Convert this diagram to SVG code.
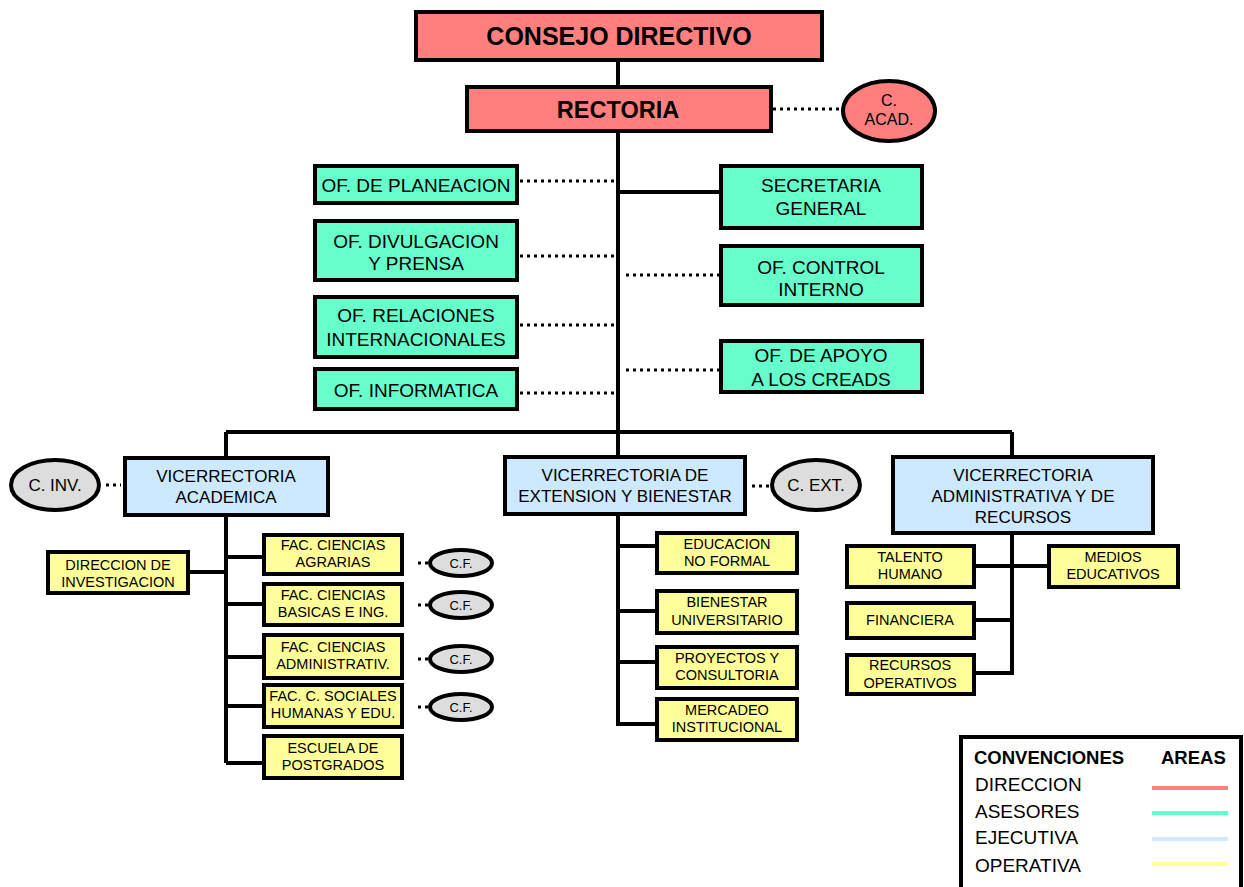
<svg xmlns="http://www.w3.org/2000/svg" width="1244" height="887" viewBox="0 0 1244 887">
<style>
text{font-family:"Liberation Sans",Arial,sans-serif;fill:#000;text-anchor:middle}
.box{stroke:#000;stroke-width:4}
.dir{fill:#FF7F7F}
.ase{fill:#66FFCC}
.eje{fill:#CCE9FF}
.ope{fill:#FFFF99}
.cir{fill:#DDDDDD;stroke:#000;stroke-width:4}
.ln{stroke:#000;stroke-width:4;fill:none}
.dot{stroke:#000;stroke-width:3;stroke-dasharray:3 4;fill:none}
.t1{font-size:19px}
.t2{font-size:17px}
.t3{font-size:14.5px}
.cf{font-size:13px}
.lg{font-size:19px;text-anchor:start}
</style>
<rect width="1244" height="887" fill="#fff"/>
<g id="connectors">
<path class="ln" d="M618 60V88M618 131V432M226 432H1012M226 432V459M618 432V458M1012 432V458M618 192H721"/>
<path class="dot" d="M773 109H843M520 181H615M520 256H615M520 325H615M520 393H615M626 275H720M626 370H720"/>
<path class="ln" d="M226 515V763M188 572H226M226 557H264M226 604H264M226 657H264M226 706H264M226 763H264"/>
<path class="dot" d="M106 485H121M418 563H429M418 605H429M418 659H429M418 707H429M752 486H770"/>
<path class="ln" d="M618 514V724H657M618 546H657M618 611H657M618 662H657"/>
<path class="ln" d="M1012 533V673H974M974 566H1049M974 620H1012"/>
</g>
<g id="consejo"><rect class="box dir" x="416" y="12" width="406" height="48"/><text x="619" y="45" style="font-size:25px;font-weight:bold">CONSEJO DIRECTIVO</text></g>
<g id="rectoria"><rect class="box dir" x="467" y="87" width="304" height="44"/><text x="618" y="118" style="font-size:23.5px;font-weight:bold">RECTORIA</text></g>
<g id="c-acad"><ellipse class="box dir" cx="889" cy="111" rx="46" ry="30"/><text x="889" y="106" style="font-size:16px">C.</text><text x="889" y="125" style="font-size:16px">ACAD.</text></g>
<g id="planeacion"><rect class="box ase" x="315" y="166" width="202" height="37"/><text class="t1" x="416" y="192">OF. DE PLANEACION</text></g>
<g id="secretaria"><rect class="box ase" x="721" y="166" width="201" height="62"/><text class="t1" x="821" y="192">SECRETARIA</text><text class="t1" x="821" y="215">GENERAL</text></g>
<g id="divulgacion"><rect class="box ase" x="315" y="221" width="202" height="59"/><text class="t1" x="416" y="248">OF. DIVULGACION</text><text class="t1" x="416" y="270">Y PRENSA</text></g>
<g id="control"><rect class="box ase" x="721" y="246" width="201" height="59"/><text class="t1" x="821" y="274">OF.  CONTROL</text><text class="t1" x="821" y="296">INTERNO</text></g>
<g id="relaciones"><rect class="box ase" x="315" y="297" width="202" height="60"/><text class="t1" x="416" y="322">OF. RELACIONES</text><text class="t1" x="416" y="346">INTERNACIONALES</text></g>
<g id="apoyo"><rect class="box ase" x="721" y="341" width="201" height="51"/><text class="t1" x="821" y="362">OF. DE APOYO</text><text class="t1" x="821" y="386">A LOS CREADS</text></g>
<g id="informatica"><rect class="box ase" x="315" y="369" width="202" height="40"/><text class="t1" x="416" y="397">OF. INFORMATICA</text></g>
<g id="vic-academica"><rect class="box eje" x="125" y="458" width="203" height="57"/><text class="t2" x="226" y="482">VICERRECTORIA</text><text class="t2" x="226" y="503">ACADEMICA</text></g>
<g id="c-inv"><ellipse class="cir" cx="55" cy="485" rx="44" ry="25"/><text class="t2" x="55" y="491">C. INV.</text></g>
<g id="dir-inv"><rect class="box ope" x="48" y="552" width="140" height="41"/><text class="t3" x="118" y="570">DIRECCION DE</text><text class="t3" x="118" y="587">INVESTIGACION</text></g>
<g id="fac-agrarias"><rect class="box ope" x="264" y="535" width="138" height="39"/><text class="t3" x="333" y="550">FAC. CIENCIAS</text><text class="t3" x="333" y="567">AGRARIAS</text></g>
<g id="cf1"><ellipse class="cir" cx="461" cy="563" rx="31" ry="13"/><text class="cf" x="461" y="568">C.F.</text></g>
<g id="fac-basicas"><rect class="box ope" x="264" y="584" width="138" height="41"/><text class="t3" x="333" y="600">FAC. CIENCIAS</text><text class="t3" x="333" y="617">BASICAS E ING.</text></g>
<g id="cf2"><ellipse class="cir" cx="461" cy="605" rx="31" ry="13"/><text class="cf" x="461" y="610">C.F.</text></g>
<g id="fac-admin"><rect class="box ope" x="264" y="635" width="138" height="43"/><text class="t3" x="333" y="652">FAC. CIENCIAS</text><text class="t3" x="333" y="669">ADMINISTRATIV.</text></g>
<g id="cf3"><ellipse class="cir" cx="461" cy="659" rx="31" ry="13"/><text class="cf" x="461" y="664">C.F.</text></g>
<g id="fac-sociales"><rect class="box ope" x="264" y="685" width="138" height="42"/><text class="t3" x="333" y="701">FAC. C. SOCIALES</text><text class="t3" x="333" y="718">HUMANAS Y EDU.</text></g>
<g id="cf4"><ellipse class="cir" cx="461" cy="707" rx="31" ry="13"/><text class="cf" x="461" y="712">C.F.</text></g>
<g id="postgrados"><rect class="box ope" x="264" y="736" width="138" height="42"/><text class="t3" x="333" y="753">ESCUELA DE</text><text class="t3" x="333" y="770">POSTGRADOS</text></g>
<g id="vic-extension"><rect class="box eje" x="505" y="457" width="240" height="57"/><text class="t2" x="625" y="481">VICERRECTORIA DE</text><text class="t2" x="625" y="502">EXTENSION Y BIENESTAR</text></g>
<g id="c-ext"><ellipse class="cir" cx="816" cy="485" rx="44" ry="25"/><text class="t2" x="816" y="491">C. EXT.</text></g>
<g id="edu-no-formal"><rect class="box ope" x="657" y="533" width="140" height="40"/><text class="t3" x="727" y="549">EDUCACION</text><text class="t3" x="727" y="566">NO FORMAL</text></g>
<g id="bienestar"><rect class="box ope" x="657" y="591" width="140" height="42"/><text class="t3" x="727" y="607">BIENESTAR</text><text class="t3" x="727" y="625">UNIVERSITARIO</text></g>
<g id="proyectos"><rect class="box ope" x="657" y="647" width="140" height="41"/><text class="t3" x="727" y="663">PROYECTOS Y</text><text class="t3" x="727" y="680">CONSULTORIA</text></g>
<g id="mercadeo"><rect class="box ope" x="657" y="699" width="140" height="41"/><text class="t3" x="727" y="715">MERCADEO</text><text class="t3" x="727" y="732">INSTITUCIONAL</text></g>
<g id="vic-admin"><rect class="box eje" x="893" y="457" width="260" height="76"/><text class="t2" x="1023" y="481">VICERRECTORIA</text><text class="t2" x="1023" y="502">ADMINISTRATIVA Y DE</text><text class="t2" x="1023" y="523">RECURSOS</text></g>
<g id="talento"><rect class="box ope" x="847" y="546" width="127" height="41"/><text class="t3" x="910" y="562">TALENTO</text><text class="t3" x="910" y="579">HUMANO</text></g>
<g id="medios"><rect class="box ope" x="1049" y="546" width="129" height="41"/><text class="t3" x="1113" y="562">MEDIOS</text><text class="t3" x="1113" y="579">EDUCATIVOS</text></g>
<g id="financiera"><rect class="box ope" x="847" y="603" width="127" height="35"/><text class="t3" x="910" y="625">FINANCIERA</text></g>
<g id="rec-operativos"><rect class="box ope" x="847" y="655" width="127" height="39"/><text class="t3" x="910" y="670">RECURSOS</text><text class="t3" x="910" y="688">OPERATIVOS</text></g>
<g id="legend">
<rect x="961" y="737" width="280" height="154" fill="#fff" stroke="#000" stroke-width="4"/>
<text class="lg" x="974" y="764" style="font-weight:bold;font-size:18.5px">CONVENCIONES</text>
<text class="lg" x="1161" y="764" style="font-weight:bold;font-size:18.5px">AREAS</text>
<text class="lg" x="975" y="791">DIRECCION</text>
<text class="lg" x="975" y="818">ASESORES</text>
<text class="lg" x="975" y="844">EJECUTIVA</text>
<text class="lg" x="975" y="872">OPERATIVA</text>
<path d="M1152 788H1228" stroke="#FF7F7F" stroke-width="4"/>
<path d="M1152 813H1228" stroke="#66FFCC" stroke-width="4"/>
<path d="M1152 839H1228" stroke="#CCE9FF" stroke-width="4"/>
<path d="M1152 864H1228" stroke="#FFFF99" stroke-width="4"/>
</g>
</svg>
